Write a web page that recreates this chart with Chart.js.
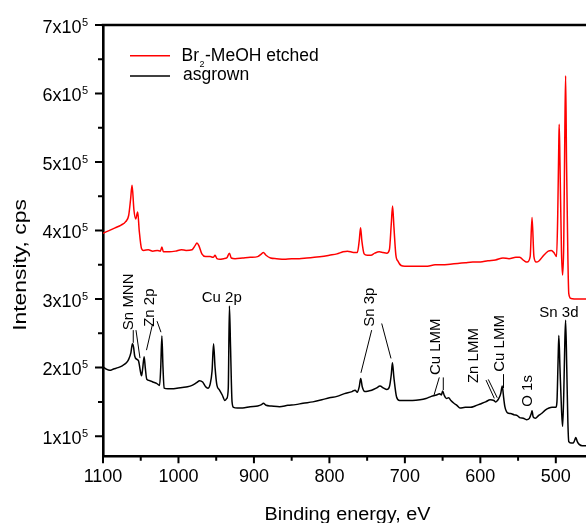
<!DOCTYPE html>
<html>
<head>
<meta charset="utf-8">
<script src="https://cdn.jsdelivr.net/npm/chart.js@4.4.1/dist/chart.umd.min.js"></script>
<style>
  html, body { margin: 0; padding: 0; background: #fff; }
  #wrap { width: 586px; height: 523px; overflow: hidden; }
</style>
</head>
<body>
<div id="wrap"><canvas id="xpsChart" width="586" height="523"></canvas></div>
<script>
// Survey spectra, binding energy in eV, intensity in units of 10^5 cps
const etchedEnergy = [
  1100, 1092, 1084, 1076, 1070, 1066, 1063.5, 1061.5, 1059, 1056.7,
  1054, 1052, 1049, 1046, 1040, 1034, 1028, 1024, 1022, 1020,
  1012, 1004, 996, 990, 982, 978, 975.5, 973, 969, 964,
  958, 954, 951.5, 949, 945, 940, 936, 932.5, 930, 925,
  915, 905, 895, 890, 887.5, 884, 878, 870, 860, 850,
  840, 830, 820, 810, 800, 790, 782, 776, 768, 763,
  760.5, 758.7, 757, 754, 750, 745, 740, 734, 729, 724,
  720.5, 718, 716.3, 714.5, 712, 709, 705, 700, 690, 680,
  670, 660, 650, 640, 630, 620, 610, 600, 590, 580,
  570, 562, 553, 548, 542, 538, 534, 531.5, 529, 526,
  522, 516, 510, 506, 502, 499, 497.5, 496, 495.5, 494.5,
  492.5, 491, 489.5, 488, 487, 485.8, 484, 482.8, 480, 470,
  460
];
const etchedCounts = [
  3.96, 4.00, 4.04, 4.08, 4.13, 4.22, 4.45, 4.66, 4.30, 4.17,
  4.27, 4.00, 3.74, 3.71, 3.72, 3.70, 3.71, 3.70, 3.76, 3.69,
  3.69, 3.70, 3.72, 3.71, 3.72, 3.78, 3.82, 3.78, 3.66, 3.62,
  3.62, 3.61, 3.64, 3.59, 3.58, 3.59, 3.60, 3.67, 3.60, 3.59,
  3.60, 3.61, 3.62, 3.66, 3.68, 3.64, 3.60, 3.59, 3.58, 3.59,
  3.59, 3.60, 3.61, 3.62, 3.64, 3.66, 3.69, 3.70, 3.68, 3.68,
  3.85, 4.04, 3.85, 3.66, 3.64, 3.64, 3.67, 3.69, 3.68, 3.67,
  3.72, 4.10, 4.36, 4.05, 3.65, 3.55, 3.49, 3.48, 3.48, 3.48,
  3.48, 3.50, 3.50, 3.51, 3.52, 3.53, 3.54, 3.54, 3.56, 3.57,
  3.60, 3.59, 3.61, 3.61, 3.56, 3.54, 3.62, 4.19, 3.62, 3.54,
  3.56, 3.64, 3.70, 3.71, 3.67, 3.62, 4.20, 5.30, 5.55, 5.00,
  3.70, 3.35, 3.80, 5.50, 6.26, 5.00, 3.60, 3.08, 3.01, 3.00,
  3.00
];

const asgrownEnergy = [
  1100, 1096, 1091, 1086, 1080, 1074, 1069, 1066, 1063, 1061,
  1059.5, 1058, 1055, 1053, 1050.5, 1049, 1047.5, 1045.5, 1044, 1042,
  1038, 1034, 1029, 1025, 1023.5, 1022, 1020.5, 1019, 1014, 1008,
  1002, 995, 988, 982, 976, 972, 968, 964, 961, 958,
  955.5, 953.5, 951.5, 949, 946, 942, 938.5, 936, 934, 932.5,
  931, 929, 927, 922, 915, 905, 895, 890, 887.5, 884,
  877, 866, 855, 845, 835, 822, 810, 800, 790, 780,
  770, 766, 763, 760.5, 758.5, 756.5, 753, 748, 744, 738,
  733, 728, 724, 720.5, 718, 716.5, 714.5, 711, 707, 700,
  690, 680, 672, 665, 658, 654, 651.5, 650, 648, 645,
  642, 639, 635, 631, 627, 620, 613, 607, 600, 593,
  587, 582, 579.5, 575.5, 573, 571, 569, 567.5, 564, 560,
  555, 551, 548, 543, 539, 535, 532.5, 531.5, 530, 527,
  523, 519, 514, 509, 505, 500, 498.5, 497, 496, 494.5,
  492.5, 491, 489.5, 488, 487, 485.5, 484, 482.8, 480, 477,
  475, 473.5, 471.5, 469, 465, 460
];
const asgrownCounts = [
  2.01, 1.98, 1.96, 1.98, 2.00, 2.03, 2.07, 2.12, 2.22, 2.35,
  2.30, 2.17, 2.12, 2.10, 1.95, 1.88, 1.98, 2.16, 2.00, 1.83,
  1.81, 1.79, 1.77, 1.74, 2.00, 2.46, 2.00, 1.70, 1.69, 1.69,
  1.70, 1.71, 1.72, 1.74, 1.78, 1.81, 1.79, 1.72, 1.70, 1.76,
  1.95, 2.35, 2.00, 1.74, 1.68, 1.60, 1.52, 1.55, 1.70, 2.90,
  2.30, 1.50, 1.42, 1.41, 1.41, 1.43, 1.44, 1.46, 1.48, 1.45,
  1.44, 1.43, 1.45, 1.46, 1.48, 1.50, 1.53, 1.56, 1.58, 1.62,
  1.65, 1.67, 1.64, 1.72, 1.84, 1.72, 1.65, 1.66, 1.67, 1.70,
  1.73, 1.70, 1.68, 1.72, 1.90, 2.07, 1.85, 1.57, 1.52, 1.52,
  1.52, 1.53, 1.55, 1.58, 1.60, 1.62, 1.60, 1.66, 1.60, 1.55,
  1.56, 1.52, 1.48, 1.45, 1.41, 1.42, 1.42, 1.44, 1.47, 1.50,
  1.53, 1.52, 1.50, 1.55, 1.62, 1.73, 1.55, 1.43, 1.34, 1.33,
  1.31, 1.30, 1.27, 1.26, 1.24, 1.26, 1.33, 1.37, 1.28, 1.26,
  1.30, 1.33, 1.38, 1.41, 1.42, 1.42, 1.50, 2.10, 2.47, 2.00,
  1.40, 1.14, 1.60, 2.40, 2.69, 2.00, 1.20, 0.92, 0.90, 0.90,
  0.94, 0.98, 0.92, 0.88, 0.86, 0.86
];

const seriesLabels = ["-MeOH etched", "asgrown"];
const xMajorTicks = [1100, 1000, 900, 800, 700, 600, 500];
const xMinorTicks = [1050, 950, 850, 750, 650, 550];
const yMajorTicks = [1, 2, 3, 4, 5, 6, 7];
const yMinorTicks = [1.5, 2.5, 3.5, 4.5, 5.5, 6.5];

// peak assignments, anchored in (eV, 10^5 cps)
const peakLabels = [
  { text: "Sn MNN", e: 1060.3, i: 2.547, vertical: true },
  { text: "Zn 2p", e: 1031.8, i: 2.595, vertical: true },
  { text: "Cu 2p", e: 969.2, i: 2.959, vertical: false },
  { text: "Sn 3p", e: 740.3, i: 2.595, vertical: true },
  { text: "Cu LMM", e: 654.1, i: 1.891, vertical: true },
  { text: "Zn LMM", e: 603.1, i: 1.774, vertical: true },
  { text: "Cu LMM", e: 568.0, i: 1.939, vertical: true },
  { text: "O 1s", e: 532.2, i: 1.429, vertical: true },
  { text: "Sn 3d", e: 521.9, i: 2.741, vertical: false }
];
const leaderLines = [
  [1059.9, 2.547, 1059.9, 2.362],
  [1056.3, 2.547, 1051.0, 2.139],
  [1034.4, 2.634, 1042.4, 2.255],
  [1028.4, 2.678, 1023.2, 2.517],
  [744.0, 2.547, 758.2, 1.924],
  [730.7, 2.644, 718.4, 2.134],
  [654.4, 1.857, 661.4, 1.599],
  [649.1, 1.857, 649.1, 1.672],
  [592.5, 1.818, 581.5, 1.551],
  [589.5, 1.828, 577.6, 1.560],
  [569.3, 1.905, 569.3, 1.701]
];

const FONT = "'Liberation Sans', Arial, sans-serif";
Chart.defaults.font.family = FONT;

function toPoints(xs, ys) {
  return xs.map((v, k) => ({ x: v, y: ys[k] }));
}

function font(size) {
  return size + "px " + FONT;
}

// axes ticks, labels, titles, legend and peak annotations
const decorPlugin = {
  id: "decor",
  afterDraw(chart) {
    const { ctx, chartArea: a, scales: { x, y } } = chart;
    ctx.save();
    ctx.strokeStyle = "#000";
    ctx.fillStyle = "#000";

    // frame top
    ctx.lineWidth = 2.6;
    ctx.beginPath();
    ctx.moveTo(a.left - 1.3, a.top);
    ctx.lineTo(a.right, a.top);
    ctx.stroke();

    // tick marks
    ctx.lineWidth = 2;
    ctx.beginPath();
    yMajorTicks.forEach(v => {
      const p = y.getPixelForValue(v);
      ctx.moveTo(a.left - 8, p); ctx.lineTo(a.left, p);
    });
    yMinorTicks.forEach(v => {
      const p = y.getPixelForValue(v);
      ctx.moveTo(a.left - 5, p); ctx.lineTo(a.left, p);
    });
    xMajorTicks.forEach(v => {
      const p = x.getPixelForValue(v);
      ctx.moveTo(p, a.bottom); ctx.lineTo(p, a.bottom + 6.5);
    });
    xMinorTicks.forEach(v => {
      const p = x.getPixelForValue(v);
      ctx.moveTo(p, a.bottom); ctx.lineTo(p, a.bottom + 4);
    });
    ctx.stroke();

    // tick labels
    ctx.textBaseline = "alphabetic";
    yMajorTicks.forEach(v => {
      const p = y.getPixelForValue(v);
      ctx.font = font(18);
      ctx.textAlign = "right";
      ctx.fillText(v + "x10", a.left - 21.5, p + 7.5);
      ctx.font = font(11);
      ctx.textAlign = "left";
      ctx.fillText("5", a.left - 21, p + 0.5);
    });
    ctx.font = font(18);
    ctx.textAlign = "center";
    xMajorTicks.forEach(v => {
      ctx.fillText(String(v), x.getPixelForValue(v), a.bottom + 25);
    });

    // axis titles
    ctx.font = font(18);
    ctx.save();
    ctx.translate((a.left + a.right) / 2 + 3, 520);
    ctx.scale(1.1, 1);
    ctx.fillText("Binding energy, eV", 0, 0);
    ctx.restore();
    ctx.save();
    ctx.translate(26, 265);
    ctx.rotate(-Math.PI / 2);
    ctx.scale(1.27, 1);
    ctx.fillText("Intensity, cps", 0, 0);
    ctx.restore();

    // legend
    ctx.lineWidth = 1.5;
    ctx.textAlign = "left";
    chart.data.datasets.forEach((ds, k) => {
      const ly = 55.7 + k * 20.3;
      ctx.strokeStyle = ds.borderColor;
      ctx.beginPath();
      ctx.moveTo(130, ly); ctx.lineTo(170, ly);
      ctx.stroke();
      ctx.fillStyle = "#000";
      ctx.font = font(17.5);
      if (k === 0) {
        ctx.fillText("Br", 181.5, ly + 5);
        const w = ctx.measureText("Br").width;
        ctx.font = font(9);
        ctx.fillText("2", 181.5 + w + 0.5, ly + 11);
        ctx.font = font(17.5);
        ctx.fillText(ds.label, 181.5 + w + 6, ly + 5);
      } else {
        ctx.fillText(ds.label, 183, ly + 4.3);
      }
    });

    // peak annotations
    ctx.strokeStyle = "#000";
    ctx.fillStyle = "#000";
    ctx.lineWidth = 1;
    ctx.beginPath();
    leaderLines.forEach(([e1, i1, e2, i2]) => {
      ctx.moveTo(x.getPixelForValue(e1), y.getPixelForValue(i1));
      ctx.lineTo(x.getPixelForValue(e2), y.getPixelForValue(i2));
    });
    ctx.stroke();
    ctx.font = font(15);
    ctx.textAlign = "left";
    peakLabels.forEach(lb => {
      const px = x.getPixelForValue(lb.e);
      const py = y.getPixelForValue(lb.i);
      if (lb.vertical) {
        ctx.save();
        ctx.translate(px, py);
        ctx.rotate(-Math.PI / 2);
        ctx.fillText(lb.text, 0, 0);
        ctx.restore();
      } else {
        ctx.fillText(lb.text, px, py);
      }
    });
    ctx.restore();
  }
};

const ctx = document.getElementById("xpsChart").getContext("2d");

new Chart(ctx, {
  type: "line",
  data: {
    datasets: [
      {
        label: seriesLabels[0],
        data: toPoints(etchedEnergy, etchedCounts),
        borderColor: "#ff0000",
        borderWidth: 1.5,
        pointRadius: 0,
        cubicInterpolationMode: "monotone"
      },
      {
        label: seriesLabels[1],
        data: toPoints(asgrownEnergy, asgrownCounts),
        borderColor: "#000000",
        borderWidth: 1.5,
        pointRadius: 0,
        cubicInterpolationMode: "monotone"
      }
    ]
  },
  options: {
    responsive: false,
    animation: false,
    layout: { padding: { top: 25, left: 0, right: 0, bottom: 0 } },
    scales: {
      x: {
        type: "linear",
        reverse: true,
        min: 460,
        max: 1100,
        grid: { display: false, drawTicks: false },
        ticks: { display: false },
        border: { display: true, color: "#000", width: 2.6 },
        afterFit(scale) { scale.height = 66.3; }
      },
      y: {
        min: 0.7,
        max: 7,
        grid: { display: false, drawTicks: false },
        ticks: { display: false },
        border: { display: true, color: "#000", width: 2.6 },
        afterFit(scale) { scale.width = 103; }
      }
    },
    plugins: {
      legend: { display: false },
      tooltip: { enabled: false }
    }
  },
  plugins: [decorPlugin]
});
</script>
</body>
</html>
